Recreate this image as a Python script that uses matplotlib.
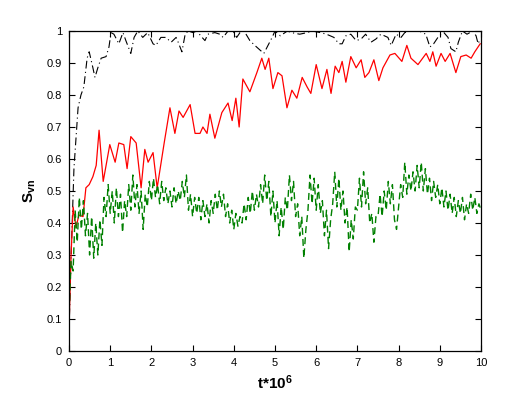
import numpy as np
import matplotlib
matplotlib.use("Agg")
import matplotlib.pyplot as plt

plt.rcParams['font.family'] = ['Liberation Sans', 'DejaVu Sans']
plt.rcParams['mathtext.fontset'] = 'custom'
plt.rcParams['mathtext.rm'] = 'Liberation Sans:bold'
plt.rcParams['mathtext.it'] = 'Liberation Sans:bold'
plt.rcParams['mathtext.bf'] = 'Liberation Sans:bold'

# red series (solid)
red_t = [0.0, 0.05, 0.10, 0.17, 0.24, 0.34, 0.41, 0.49, 0.58, 0.66, 0.73, 0.83, 0.90, 0.99,
         1.12, 1.21, 1.33, 1.41, 1.50, 1.63, 1.75, 1.84, 1.92, 2.04, 2.14, 2.31, 2.45, 2.57,
         2.67, 2.77, 2.94, 3.06, 3.18, 3.25, 3.35, 3.42, 3.54, 3.71, 3.86, 3.96, 4.05, 4.13,
         4.22, 4.39, 4.56, 4.68, 4.76, 4.85, 4.95, 5.07, 5.17, 5.29, 5.41, 5.53, 5.66, 5.78,
         5.87, 6.00, 6.14, 6.26, 6.36, 6.46, 6.55, 6.63, 6.72, 6.84, 6.97, 7.09, 7.18, 7.28,
         7.40, 7.52, 7.62, 7.79, 7.91, 8.08, 8.20, 8.30, 8.47, 8.67, 8.76, 8.83, 8.91, 9.03,
         9.13, 9.25, 9.39, 9.51, 9.64, 9.76, 9.85, 9.98]
red_v = [0.07, 0.30, 0.45, 0.385, 0.425, 0.42, 0.51, 0.52, 0.545, 0.58, 0.69, 0.53, 0.58, 0.645,
         0.59, 0.65, 0.645, 0.57, 0.67, 0.65, 0.51, 0.63, 0.59, 0.62, 0.51, 0.65, 0.76, 0.68,
         0.75, 0.73, 0.77, 0.68, 0.68, 0.70, 0.68, 0.74, 0.665, 0.745, 0.775, 0.72, 0.79, 0.70,
         0.85, 0.81, 0.87, 0.915, 0.88, 0.915, 0.82, 0.87, 0.86, 0.76, 0.815, 0.79, 0.855, 0.825,
         0.805, 0.895, 0.82, 0.88, 0.805, 0.89, 0.87, 0.905, 0.84, 0.92, 0.885, 0.91, 0.855, 0.87,
         0.91, 0.845, 0.885, 0.925, 0.93, 0.905, 0.955, 0.915, 0.895, 0.93, 0.905, 0.935, 0.89, 0.93,
         0.905, 0.93, 0.87, 0.92, 0.925, 0.915, 0.935, 0.96]

# black series (dash-dot)
black_t = [0.0, 0.05, 0.12, 0.22, 0.29, 0.36, 0.44, 0.49, 0.58, 0.63, 0.70, 0.78, 0.90, 0.97,
           1.02, 1.09, 1.21, 1.31, 1.38, 1.50, 1.58, 1.67, 1.79, 1.91, 2.04, 2.11, 2.23, 2.35,
           2.48, 2.60, 2.65, 2.74, 2.82, 2.89, 3.01, 3.10, 3.23, 3.30, 3.37, 3.54, 3.66, 3.74,
           3.86, 3.98, 4.07, 4.15, 4.25, 4.39, 4.51, 4.64, 4.73, 4.83, 4.93, 5.00, 5.13, 5.30,
           5.40, 5.60, 5.78, 5.90, 6.10, 6.25, 6.43, 6.55, 6.63, 6.72, 6.84, 6.97, 7.09, 7.20,
           7.33, 7.45, 7.57, 7.74, 7.82, 7.94, 8.06, 8.15, 8.30, 8.50, 8.66, 8.76, 8.85, 8.98,
           9.10, 9.20, 9.27, 9.39, 9.45, 9.55, 9.66, 9.80, 9.88, 9.93, 9.98]
black_v = [0.06, 0.29, 0.57, 0.76, 0.80, 0.825, 0.915, 0.935, 0.885, 0.855, 0.885, 0.915, 0.92, 0.95,
           0.995, 0.99, 0.96, 0.995, 0.97, 0.93, 0.98, 1.0, 0.98, 0.995, 0.96, 0.955, 0.98, 0.98,
           0.965, 0.98, 0.965, 0.935, 0.99, 1.0, 0.995, 1.0, 0.98, 0.97, 0.99, 0.995, 0.99, 0.98,
           1.0, 1.0, 0.98, 0.995, 1.0, 0.97, 0.955, 0.94, 0.93, 0.955, 0.98, 1.0, 0.985, 1.0,
           0.995, 0.99, 0.995, 1.0, 0.995, 0.99, 0.98, 0.96, 0.96, 0.985, 0.99, 0.97, 0.975, 0.99,
           0.965, 0.975, 0.99, 0.98, 0.955, 0.99, 0.98, 0.995, 1.0, 1.0, 0.99, 0.95, 0.96, 0.985,
           0.995, 0.98, 0.945, 0.935, 0.965, 1.0, 0.99, 1.0, 0.985, 0.96, 0.975]

# green series (dashed), sampled every 0.05
green_t = np.linspace(0, 10, 201)
green_v = [0.12, 0.28, 0.25, 0.44, 0.34, 0.48, 0.38, 0.47, 0.36, 0.43,
           0.30, 0.42, 0.29, 0.40, 0.30, 0.41, 0.33, 0.48, 0.42, 0.52,
           0.43, 0.50, 0.40, 0.51, 0.42, 0.49, 0.37, 0.47, 0.42, 0.52,
           0.44, 0.55, 0.45, 0.52, 0.43, 0.50, 0.38, 0.49, 0.45, 0.53,
           0.47, 0.54, 0.48, 0.52, 0.46, 0.53, 0.47, 0.51, 0.46, 0.50,
           0.45, 0.51, 0.46, 0.50, 0.47, 0.53, 0.48, 0.55, 0.44, 0.49,
           0.42, 0.48, 0.43, 0.48, 0.41, 0.47, 0.42, 0.46, 0.40, 0.47,
           0.43, 0.49, 0.44, 0.50, 0.45, 0.49, 0.42, 0.46, 0.40, 0.44,
           0.38, 0.43, 0.39, 0.42, 0.40, 0.46, 0.41, 0.48, 0.43, 0.50,
           0.44, 0.49, 0.45, 0.52, 0.46, 0.55, 0.47, 0.53, 0.42, 0.50,
           0.40, 0.47, 0.36, 0.45, 0.38, 0.48, 0.44, 0.55, 0.47, 0.53,
           0.42, 0.46, 0.36, 0.42, 0.29, 0.38, 0.44, 0.55, 0.46, 0.54,
           0.44, 0.52, 0.43, 0.47, 0.36, 0.44, 0.32, 0.41, 0.46, 0.56,
           0.45, 0.54, 0.44, 0.50, 0.40, 0.45, 0.31, 0.41, 0.35, 0.45,
           0.44, 0.54, 0.45, 0.56, 0.46, 0.51, 0.40, 0.43, 0.34, 0.42,
           0.42, 0.49, 0.42, 0.50, 0.44, 0.53, 0.46, 0.52, 0.41, 0.38,
           0.45, 0.52, 0.48, 0.59, 0.49, 0.55, 0.50, 0.56, 0.50, 0.58,
           0.51, 0.59, 0.50, 0.57, 0.49, 0.54, 0.47, 0.53, 0.48, 0.52,
           0.46, 0.51, 0.45, 0.50, 0.44, 0.49, 0.43, 0.48, 0.42, 0.47,
           0.43, 0.48, 0.41, 0.46, 0.43, 0.49, 0.44, 0.48, 0.43, 0.46,
           0.44]

x_ticks = np.arange(0, 11, 1)
y_ticks = np.arange(0, 1.01, 0.1)
y_labels = ['0', '0.1', '0.2', '0.3', '0.4', '0.5', '0.6', '0.7', '0.8', '0.9', '1']

fig = plt.figure(figsize=(5.32, 3.97), dpi=100)
ax = fig.add_axes([69 / 532, 46 / 397, 412 / 532, 320 / 397])

ax.plot(black_t, black_v, color='black', linewidth=0.8, linestyle=(0, (7, 3, 1, 3)))
ax.plot(red_t, red_v, color='red', linewidth=0.9)
ax.plot(green_t, green_v, color='#008000', linewidth=1.0, linestyle=(0, (5, 3)))

ax.set_xlim(0, 10)
ax.set_ylim(0, 1)
ax.set_xticks(x_ticks)
ax.set_yticks(y_ticks)
ax.set_yticklabels(y_labels)
ax.tick_params(direction='in', length=4, width=0.8, labelsize=8, top=True, right=True, pad=5)
for s in ax.spines.values():
    s.set_linewidth(0.9)

ax.set_xlabel('t*10$^6$', fontsize=11, fontweight='bold', labelpad=4)
ax.set_ylabel('S$_{vn}$', fontsize=11, fontweight='bold', labelpad=6)

fig.savefig('out.png', dpi=100)
